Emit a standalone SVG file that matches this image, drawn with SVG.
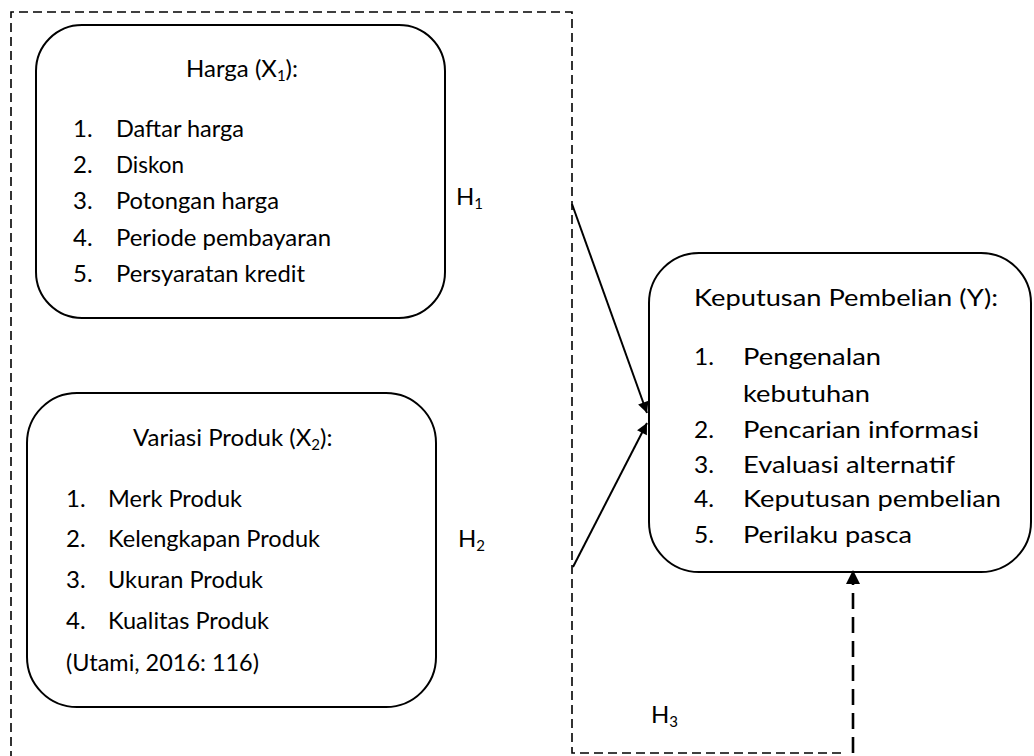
<svg xmlns="http://www.w3.org/2000/svg" width="1034" height="756" viewBox="0 0 1034 756">
<style>
text{font-family:Lato,"Open Sans","Liberation Sans",sans-serif;font-size:24px;fill:#000}
.sub{font-size:15px}
.box{fill:#fff;stroke:#000;stroke-width:2}
.dash{fill:none;stroke:#000;stroke-width:1.6;stroke-dasharray:9 5}
.conn{fill:none;stroke:#000;stroke-width:2}
</style>
<defs>
<marker id="ah" viewBox="0 0 10 10" refX="10" refY="5" markerWidth="17" markerHeight="11" markerUnits="userSpaceOnUse" orient="auto">
<path d="M0,0 L10,5 L0,10 z" fill="#000"/>
</marker>
</defs>
<g id="frame">
<path class="dash" d="M11,760 V12 H572 V753 H845"/>
</g>
<g id="harga">
<rect class="box" x="36" y="25" width="409" height="293" rx="46" ry="46"/>
<text x="186" y="77">Harga (X<tspan class="sub" dy="4">1</tspan><tspan dy="-4">):</tspan></text>
<text x="73" y="137">1.</text><text x="116" y="137" textLength="128" lengthAdjust="spacingAndGlyphs">Daftar harga</text>
<text x="73" y="173">2.</text><text x="116" y="173" textLength="68" lengthAdjust="spacingAndGlyphs">Diskon</text>
<text x="73" y="209">3.</text><text x="116" y="209" textLength="163" lengthAdjust="spacingAndGlyphs">Potongan harga</text>
<text x="73" y="246">4.</text><text x="116" y="246" textLength="215" lengthAdjust="spacingAndGlyphs">Periode pembayaran</text>
<text x="73" y="282">5.</text><text x="116" y="282" textLength="189" lengthAdjust="spacingAndGlyphs">Persyaratan kredit</text>
</g>
<g id="variasi">
<rect class="box" x="27" y="393" width="409" height="314" rx="50" ry="50"/>
<text x="133" y="446">Variasi Produk (X<tspan class="sub" dy="4">2</tspan><tspan dy="-4">):</tspan></text>
<text x="66" y="507">1.</text><text x="108" y="507" textLength="134" lengthAdjust="spacingAndGlyphs">Merk Produk</text>
<text x="66" y="547">2.</text><text x="108" y="547" textLength="212" lengthAdjust="spacingAndGlyphs">Kelengkapan Produk</text>
<text x="66" y="588">3.</text><text x="108" y="588" textLength="155" lengthAdjust="spacingAndGlyphs">Ukuran Produk</text>
<text x="66" y="629">4.</text><text x="108" y="629" textLength="161" lengthAdjust="spacingAndGlyphs">Kualitas Produk</text>
<text x="66" y="671" textLength="193" lengthAdjust="spacingAndGlyphs">(Utami, 2016: 116)</text>
</g>
<g id="keputusan">
<rect class="box" x="649" y="253" width="382" height="319" rx="50" ry="50"/>
<text x="694" y="306" textLength="304" lengthAdjust="spacingAndGlyphs">Keputusan Pembelian (Y):</text>
<text x="694" y="365" textLength="20" lengthAdjust="spacingAndGlyphs">1.</text><text x="743" y="365" textLength="138" lengthAdjust="spacingAndGlyphs">Pengenalan</text>
<text x="743" y="402" textLength="127" lengthAdjust="spacingAndGlyphs">kebutuhan</text>
<text x="694" y="438" textLength="20" lengthAdjust="spacingAndGlyphs">2.</text><text x="743" y="438" textLength="236" lengthAdjust="spacingAndGlyphs">Pencarian informasi</text>
<text x="694" y="473" textLength="20" lengthAdjust="spacingAndGlyphs">3.</text><text x="743" y="473" textLength="212" lengthAdjust="spacingAndGlyphs">Evaluasi alternatif</text>
<text x="694" y="507" textLength="20" lengthAdjust="spacingAndGlyphs">4.</text><text x="743" y="507" textLength="258" lengthAdjust="spacingAndGlyphs">Keputusan pembelian</text>
<text x="694" y="543" textLength="20" lengthAdjust="spacingAndGlyphs">5.</text><text x="743" y="543" textLength="169" lengthAdjust="spacingAndGlyphs">Perilaku pasca</text>
</g>
<g id="connectors">
<line class="conn" x1="572" y1="204" x2="647" y2="413" marker-end="url(#ah)"/>
<line class="conn" x1="573" y1="567" x2="647" y2="423" marker-end="url(#ah)"/>
<path d="M853,753 V583" fill="none" stroke="#000" stroke-width="2.6" stroke-dasharray="16 8"/>
<path d="M853,570 L860,584 L846,584 z" fill="#000"/>
</g>
<g id="labels">
<text x="456" y="205">H<tspan class="sub" dy="4">1</tspan></text>
<text x="458" y="547">H<tspan class="sub" dy="4">2</tspan></text>
<text x="651" y="723">H<tspan class="sub" dy="4">3</tspan></text>
</g>
</svg>
